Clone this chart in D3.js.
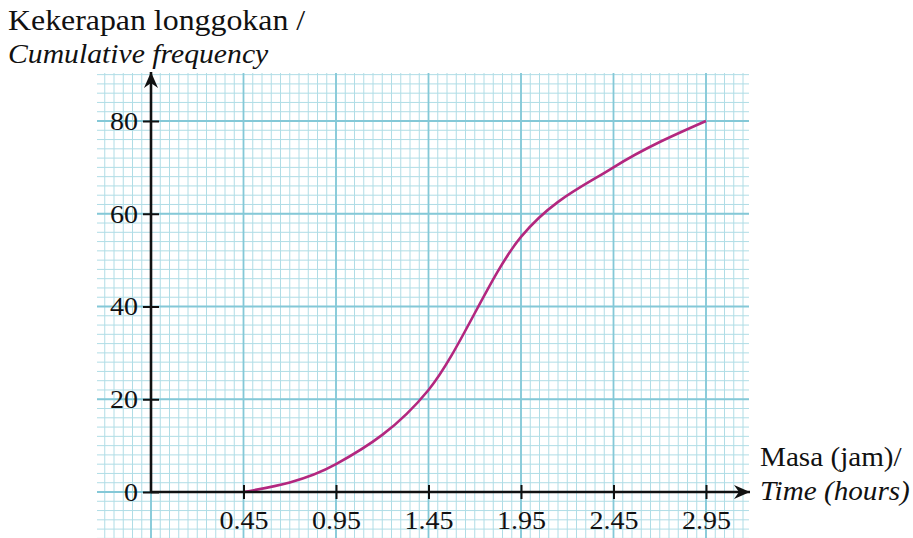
<!DOCTYPE html>
<html>
<head>
<meta charset="utf-8">
<script src="https://cdn.jsdelivr.net/npm/d3@7"></script>
<style>
  html, body { margin: 0; padding: 0; background: #fff; }
  svg { display: block; }
  svg text { font-family: "Liberation Serif", serif !important; }
</style>
</head>
<body>
<svg id="chart" width="913" height="538"></svg>
<script>
// ---- data ----
const times = [0.45, 0.95, 1.45, 1.95, 2.45, 2.95];
const cumFreq = [0, 6, 22, 55, 70, 80];
const xTickLabels = ["0.45", "0.95", "1.45", "1.95", "2.45", "2.95"];
const yTickValues = [0, 20, 40, 60, 80];

const SERIF = "Liberation Serif";
const SX = 1.08; // horizontal stretch of the lettering
const svg = d3.select("#chart");
const x = d3.scaleLinear().domain([-0.05, 2.95]).range([151, 706]);
const y = d3.scaleLinear().domain([0, 80]).range([492, 121]);

// grid extents
const gx0 = 97, gx1 = 749, gy0 = 73, gy1 = 538;
const defs = svg.append("defs");
defs.append("clipPath").attr("id", "gridclip")
  .append("rect").attr("x", gx0).attr("y", gy0).attr("width", gx1 - gx0).attr("height", gy1 - gy0);

const grid = svg.append("g").attr("clip-path", "url(#gridclip)");
const xMinor = d3.range(-80, 80).map(i => -0.05 + i * 0.05);
grid.selectAll("line.vmin").data(xMinor).enter().append("line")
  .attr("x1", d => x(d)).attr("x2", d => x(d)).attr("y1", gy0).attr("y2", gy1)
  .attr("stroke", "#b0dde6").attr("stroke-width", 1);
const yMinor = d3.range(-10, 50).map(i => i * 2);
grid.selectAll("line.hmin").data(yMinor).enter().append("line")
  .attr("y1", d => y(d)).attr("y2", d => y(d)).attr("x1", gx0).attr("x2", gx1)
  .attr("stroke", "#b0dde6").attr("stroke-width", 1);
const xMajor = d3.range(-2, 8).map(i => -0.05 + i * 0.5);
grid.selectAll("line.vmaj").data(xMajor).enter().append("line")
  .attr("x1", d => x(d)).attr("x2", d => x(d)).attr("y1", gy0).attr("y2", gy1)
  .attr("stroke", "#84c8d7").attr("stroke-width", 1.8);
const yMajor = d3.range(-1, 6).map(i => i * 20);
grid.selectAll("line.hmaj").data(yMajor).enter().append("line")
  .attr("y1", d => y(d)).attr("y2", d => y(d)).attr("x1", gx0).attr("x2", gx1)
  .attr("stroke", "#84c8d7").attr("stroke-width", 1.8);

// curve
const line = d3.line().x((d, i) => x(times[i])).y(d => y(d)).curve(d3.curveMonotoneX);
svg.append("path").datum(cumFreq).attr("d", line)
  .attr("fill", "none").attr("stroke", "#b3277f").attr("stroke-width", 2.6);

// arrow marker
defs.append("marker").attr("id", "arrow").attr("viewBox", "-16 -8 18 16")
  .attr("refX", 0).attr("refY", 0).attr("markerWidth", 18).attr("markerHeight", 16)
  .attr("markerUnits", "userSpaceOnUse").attr("orient", "auto")
  .append("path").attr("d", "M0,0 L-16,-7 L-11,0 L-16,7 Z").attr("fill", "#111");

// axis lines
svg.append("line").attr("x1", x(-0.05)).attr("x2", 750).attr("y1", y(0)).attr("y2", y(0))
  .attr("stroke", "#111").attr("stroke-width", 2.6).attr("marker-end", "url(#arrow)");
svg.append("line").attr("x1", x(-0.05)).attr("x2", x(-0.05)).attr("y1", y(0)).attr("y2", 72)
  .attr("stroke", "#111").attr("stroke-width", 2.6).attr("marker-end", "url(#arrow)");

// x axis ticks
const xAxis = d3.axisBottom(x).tickValues(times).tickFormat((d, i) => xTickLabels[i])
  .tickSizeInner(7).tickSizeOuter(0).tickPadding(22);
const gX = svg.append("g").attr("transform", `translate(0,${y(0)})`).call(xAxis)
  .attr("font-family", SERIF).attr("font-size", 26);
gX.select(".domain").remove();
gX.selectAll(".tick line").attr("y1", -7).attr("y2", 7).attr("stroke", "#111").attr("stroke-width", 2);
gX.selectAll(".tick text").attr("fill", "#111").attr("dy", "0.71em").attr("y", 19)
  .attr("transform", `scale(${SX},1)`);

// y axis ticks
const yAxis = d3.axisLeft(y).tickValues(yTickValues).tickFormat(d3.format("d"))
  .tickSizeInner(8).tickSizeOuter(0).tickPadding(6);
const gY = svg.append("g").attr("transform", `translate(${x(-0.05)},0)`).call(yAxis)
  .attr("font-family", SERIF).attr("font-size", 26);
gY.select(".domain").remove();
gY.selectAll(".tick line").attr("x1", -8).attr("x2", 8).attr("stroke", "#111").attr("stroke-width", 2);
gY.selectAll(".tick text").attr("fill", "#111").attr("x", -13 / SX)
  .attr("transform", `scale(${SX},1)`);

// axis titles
const title = (tx, ty, s, italic, fs) => svg.append("text")
  .attr("transform", `translate(${tx},${ty}) scale(${SX},1)`)
  .attr("font-family", SERIF).attr("font-size", fs).attr("fill", "#111")
  .attr("font-style", italic ? "italic" : "normal").text(s);
title(8, 30, "Kekerapan longgokan /", false, 29.5);
title(8, 63, "Cumulative frequency", true, 27.5);
title(760, 466, "Masa (jam)/", false, 27);
title(760, 500, "Time (hours)", true, 27);
</script>
</body>
</html>
